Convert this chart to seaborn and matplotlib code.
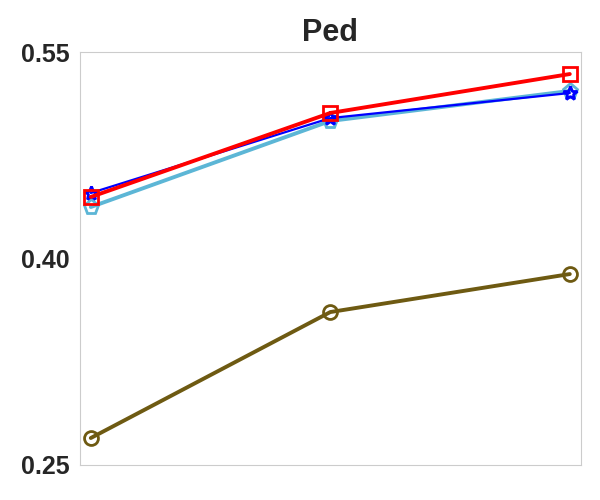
import pandas as pd
import numpy as np
import matplotlib
matplotlib.use("Agg")
import matplotlib.pyplot as plt
import seaborn as sns

# Data
steps = [0, 1, 2]
brown_vals = [0.2696, 0.3611, 0.3887]
lightblue_vals = [0.4374, 0.4999, 0.5217]
blue_vals = [0.4476, 0.5020, 0.5202]
red_vals = [0.4447, 0.5057, 0.5340]

sns.set_style("whitegrid")
plt.rcParams["font.family"] = ["Liberation Sans", "DejaVu Sans"]

fig, ax = plt.subplots(figsize=(6, 5), dpi=100)

series = [
    (brown_vals, "#6e5a12", "o", 2.8, 10),
    (lightblue_vals, "#5cb6d6", "p", 2.8, 11),
    (blue_vals, "#0000ff", "*", 1.6, 10),
    (red_vals, "#ff0000", "s", 2.8, 10),
]
for vals, color, marker, lw, ms in series:
    df = pd.DataFrame({"x": steps, "y": vals})
    sns.lineplot(data=df, x="x", y="y", ax=ax, color=color, marker=marker,
                 linewidth=lw, markersize=ms, markerfacecolor="none",
                 markeredgecolor=color, markeredgewidth=2)

ax.grid(False)
ax.set_xlim(-0.046, 2.046)
ax.set_ylim(0.25, 0.55)
ax.set_yticks([0.25, 0.40, 0.55])
ax.set_yticklabels(["0.25", "0.40", "0.55"], fontsize=18, fontweight="bold")
ax.set_xticks([])
ax.set_xlabel("")
ax.set_ylabel("")
ax.set_title("Ped", fontsize=22, fontweight="bold", pad=8)
for s in ax.spines.values():
    s.set_color("#cccccc")

fig.subplots_adjust(left=0.133, right=0.968, top=0.896, bottom=0.07)
fig.savefig("out.png", dpi=100)
